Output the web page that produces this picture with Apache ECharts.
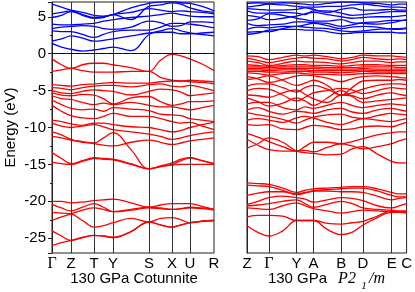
<!DOCTYPE html>
<html><head><meta charset="utf-8">
<script src="https://cdn.jsdelivr.net/npm/echarts@6/dist/echarts.min.js"></script>
<style>html,body{margin:0;padding:0;background:#fff}#c{width:415px;height:292px}</style>
</head><body><div id="c"></div>
<script>
// ---------- Left panel: 130 GPa Cotunnite ----------
const leftK = [0, 9.5, 19, 30.5, 42, 51.5, 61, 79, 97, 108.5, 120, 129, 138, 150, 162];
const leftTicks = [0, 19, 42, 61, 97, 120, 138, 162];
const leftTickLabels = ['Γ','Z','T','Y','S','X','U','R'];
const leftCond = [
  [1.4, 0.9, 0.6, 0.35, 0.5, 0.7, 0.9, 0.4, 2.6, 3.1, 3.4, 3.1, 2.8, 2.6, 2.4],
  [1.7, 2.0, 2.4, 2.1, 1.7, 1.8, 2.0, 2.4, 2.8, 2.9, 2.9, 2.7, 2.7, 2.8, 2.9],
  [3.1, 3.0, 3.0, 2.6, 2.2, 2.6, 3.0, 3.2, 3.2, 3.6, 4.1, 4.1, 4.0, 3.8, 3.5],
  [3.4, 3.6, 3.7, 3.8, 3.7, 3.4, 3.3, 3.6, 4.4, 4.2, 3.7, 3.8, 4.3, 4.3, 4.2],
  [4.0, 3.9, 3.9, 4.0, 4.1, 4.4, 4.6, 4.9, 5.1, 5.3, 5.5, 5.3, 5.1, 5.0, 5.0],
  [4.9, 5.2, 5.7, 5.3, 4.9, 5.0, 5.3, 5.6, 6.1, 5.9, 5.7, 5.8, 5.7, 5.6, 5.4],
  [5.4, 5.6, 5.8, 5.2, 4.8, 4.9, 5.3, 4.6, 6.4, 6.6, 6.9, 6.7, 6.2, 5.8, 5.6],
  [6.7, 6.3, 5.9, 5.6, 5.2, 5.1, 5.3, 6.2, 6.8, 7.0, 7.1, 6.9, 6.8, 6.4, 5.8]
];
const leftVal = [
  [-0.7, -1.5, -2.0, -1.5, -1.3, -1.3, -1.5, -1.9, -2.4, -0.9, -0.1, -0.3, -0.7, -1.4, -2.3],
  [-2.4, -2.2, -2.0, -2.3, -2.5, -2.5, -2.5, -2.4, -2.4, -3.2, -3.6, -3.7, -3.6, -3.7, -3.8],
  [-4.2, -4.3, -4.4, -4.2, -4.1, -4.0, -3.9, -4.0, -4.0, -3.8, -3.7, -3.7, -3.8, -3.9, -4.1],
  [-4.6, -4.7, -4.9, -4.6, -4.4, -4.3, -4.3, -4.5, -4.2, -4.1, -4.4, -4.5, -4.3, -4.6, -5.0],
  [-5.0, -5.3, -5.4, -5.1, -4.9, -5.0, -5.1, -5.6, -5.1, -4.8, -4.9, -5.2, -5.7, -5.5, -5.3],
  [-5.3, -5.6, -5.7, -5.5, -5.6, -6.1, -6.8, -6.0, -5.8, -6.5, -7.0, -6.8, -6.5, -6.5, -6.4],
  [-5.7, -6.1, -6.2, -6.6, -6.9, -6.7, -6.9, -6.6, -7.0, -7.2, -7.2, -7.4, -7.6, -7.3, -7.0],
  [-6.3, -6.9, -7.4, -7.6, -7.5, -7.8, -7.3, -7.5, -7.7, -8.2, -8.3, -8.4, -8.8, -9.0, -9.2],
  [-7.0, -7.8, -8.4, -8.7, -8.8, -8.5, -8.1, -8.5, -8.5, -8.8, -9.2, -9.4, -9.3, -9.8, -10.3],
  [-9.0, -9.2, -9.5, -9.7, -9.4, -9.4, -9.6, -9.9, -10.0, -10.3, -10.6, -10.4, -10.0, -9.6, -9.3],
  [-9.4, -9.8, -10.0, -9.8, -9.6, -9.9, -10.3, -10.6, -10.9, -11.2, -11.6, -11.4, -11.1, -10.8, -10.6],
  [-10.6, -11.0, -11.6, -12.0, -12.1, -11.4, -10.7, -13.0, -15.6, -15.3, -15.0, -14.5, -14.1, -14.5, -14.9],
  [-11.2, -11.4, -11.7, -11.9, -12.2, -12.4, -12.5, -12.0, -11.7, -12.0, -12.3, -12.1, -11.8, -11.6, -11.4],
  [-13.4, -14.2, -14.9, -14.5, -14.1, -14.2, -14.3, -14.9, -15.6, -15.2, -14.8, -14.3, -14.1, -14.5, -14.9],
  [-14.7, -14.9, -15.0, -14.6, -14.2, -14.3, -14.4, -15.0, -15.6, -15.3, -15.1, -15.0, -15.0, -15.0, -15.0],
  [-20.0, -20.0, -20.2, -20.1, -19.9, -19.8, -19.7, -20.2, -20.8, -20.5, -20.3, -20.3, -20.3, -20.7, -21.1],
  [-20.4, -20.9, -21.3, -20.8, -20.3, -20.8, -21.4, -21.1, -20.8, -20.9, -21.1, -21.0, -20.8, -20.9, -21.1],
  [-21.5, -21.6, -21.7, -22.6, -23.5, -23.3, -22.9, -22.3, -22.8, -22.3, -22.2, -22.5, -22.9, -22.7, -22.6],
  [-22.6, -22.1, -21.7, -21.2, -20.9, -21.1, -21.4, -21.2, -20.9, -21.0, -21.1, -21.0, -20.9, -21.0, -21.2],
  [-24.0, -24.7, -25.3, -24.9, -24.6, -24.7, -24.9, -24.1, -22.8, -23.2, -23.5, -23.2, -22.9, -22.7, -22.6],
  [-26.0, -25.6, -25.3, -24.9, -24.6, -24.7, -24.9, -24.1, -22.8, -23.2, -23.5, -23.2, -22.9, -22.7, -22.6]
];

// ---------- Right panel: 130 GPa P2_1/m ----------
const rightK = [0, 11, 22, 36, 50, 58.5, 67, 81, 95, 106, 117, 131.5, 146, 153.5, 161];
const rightTicks = [0, 22, 50, 67, 95, 117, 146, 161];
const rightTickLabels = ['Z','Γ','Y','A','B','D','E','C'];
const rightCond = [
  [2.6, 2.8, 3.2, 3.3, 3.3, 3.2, 3.2, 3.0, 2.7, 2.8, 2.9, 2.9, 2.9, 2.8, 2.8],
  [2.9, 3.0, 3.0, 3.4, 3.7, 3.6, 3.5, 3.4, 3.1, 3.0, 3.1, 3.3, 3.4, 3.4, 3.5],
  [3.3, 3.6, 3.5, 3.7, 3.7, 3.9, 4.1, 3.8, 3.4, 3.6, 3.7, 3.6, 3.3, 3.3, 3.4],
  [4.1, 3.8, 3.9, 4.0, 4.3, 4.3, 4.2, 4.1, 3.7, 3.9, 4.2, 4.3, 4.5, 4.5, 4.5],
  [4.5, 4.7, 5.4, 5.2, 4.8, 4.6, 4.4, 4.4, 4.6, 4.2, 4.1, 4.0, 4.2, 4.4, 4.6],
  [5.2, 5.0, 4.6, 4.8, 5.1, 5.4, 5.6, 5.3, 5.0, 4.8, 4.9, 5.0, 5.0, 5.1, 5.2],
  [5.8, 5.5, 5.5, 5.6, 5.5, 5.3, 5.8, 5.8, 5.5, 5.2, 5.3, 5.5, 5.7, 5.7, 5.7],
  [6.1, 6.0, 5.9, 5.9, 6.0, 6.2, 6.0, 5.6, 6.0, 6.2, 5.9, 5.9, 6.0, 5.9, 5.9],
  [6.3, 6.5, 6.7, 6.6, 6.4, 6.3, 6.3, 6.4, 6.4, 6.6, 6.7, 6.5, 6.3, 6.3, 6.2],
  [6.8, 6.9, 6.8, 6.9, 6.8, 6.7, 6.6, 6.8, 7.0, 7.0, 6.9, 6.8, 6.6, 6.7, 6.7]
];
const rightVal = [
  [-0.3, -0.4, -0.8, -0.5, -0.2, -0.3, -0.2, -0.4, -0.7, -0.5, -0.2, -0.3, -0.3, -0.4, -0.5],
  [-0.6, -0.9, -1.2, -0.9, -0.6, -0.5, -0.6, -0.7, -1.0, -0.8, -0.5, -0.7, -0.8, -0.7, -0.8],
  [-1.0, -1.2, -1.6, -1.3, -1.0, -1.1, -1.1, -1.2, -1.4, -1.2, -1.0, -1.0, -1.2, -1.1, -1.1],
  [-1.5, -1.6, -1.7, -1.6, -1.5, -1.5, -1.6, -1.6, -1.7, -1.6, -1.5, -1.5, -1.6, -1.6, -1.6],
  [-1.8, -1.8, -1.9, -1.8, -1.8, -1.8, -1.8, -1.9, -1.9, -1.9, -1.8, -1.8, -1.8, -1.9, -1.9],
  [-2.0, -2.0, -2.1, -2.0, -2.0, -2.0, -2.0, -2.1, -2.1, -2.1, -2.0, -2.1, -2.1, -2.1, -2.1],
  [-2.2, -2.2, -2.3, -2.2, -2.2, -2.2, -2.3, -2.3, -2.3, -2.3, -2.2, -2.3, -2.3, -2.3, -2.3],
  [-2.4, -2.4, -2.5, -2.5, -2.4, -2.4, -2.5, -2.5, -2.6, -2.5, -2.4, -2.5, -2.5, -2.5, -2.5],
  [-2.6, -2.7, -2.9, -2.7, -2.6, -2.7, -2.8, -2.8, -2.9, -2.8, -2.7, -2.7, -2.7, -2.7, -2.7],
  [-3.1, -3.4, -3.9, -3.5, -3.0, -2.9, -3.0, -3.3, -3.8, -3.4, -3.1, -3.0, -3.1, -3.2, -3.3],
  [-3.5, -3.3, -3.0, -3.6, -4.3, -4.0, -3.6, -4.3, -5.6, -4.6, -3.7, -3.6, -3.6, -3.5, -3.6],
  [-4.4, -4.1, -4.1, -4.6, -5.2, -4.6, -4.3, -4.8, -5.6, -5.3, -4.8, -4.3, -4.1, -4.1, -4.2],
  [-5.0, -4.7, -4.8, -5.6, -6.4, -5.9, -5.3, -5.0, -4.7, -4.9, -5.4, -5.0, -4.6, -4.7, -4.8],
  [-5.6, -5.7, -5.9, -5.3, -4.9, -5.5, -6.1, -6.6, -5.6, -5.7, -6.1, -5.6, -5.3, -5.5, -5.7],
  [-6.0, -6.5, -7.1, -6.7, -6.0, -6.4, -7.0, -6.0, -5.0, -5.8, -6.6, -6.4, -6.2, -6.1, -6.0],
  [-6.8, -6.6, -6.6, -7.3, -7.6, -7.2, -7.4, -7.0, -6.6, -7.0, -7.3, -7.0, -6.8, -6.9, -7.0],
  [-7.6, -7.3, -7.8, -8.2, -7.8, -7.9, -8.1, -7.6, -7.4, -7.9, -8.1, -7.6, -7.4, -7.6, -7.8],
  [-8.0, -8.3, -8.5, -8.9, -9.4, -9.0, -8.6, -8.3, -8.2, -8.6, -8.8, -8.4, -8.1, -8.2, -8.3],
  [-9.0, -8.8, -9.0, -9.3, -8.7, -8.5, -8.7, -9.3, -9.6, -9.2, -8.8, -9.0, -9.2, -9.0, -8.8],
  [-9.6, -9.7, -9.6, -10.2, -10.3, -10.0, -9.7, -9.9, -10.3, -10.2, -9.9, -9.8, -9.9, -9.6, -9.3],
  [-10.8, -11.3, -11.9, -12.6, -13.2, -13.1, -13.3, -12.7, -12.2, -12.5, -12.9, -12.6, -12.2, -11.8, -11.5],
  [-12.8, -12.2, -11.4, -12.0, -13.2, -13.4, -13.5, -13.7, -13.6, -12.9, -12.6, -13.6, -14.6, -14.8, -14.8],
  [-11.6, -12.4, -13.0, -13.2, -13.2, -12.6, -12.0, -12.0, -12.2, -11.9, -11.5, -11.0, -10.7, -10.6, -10.6],
  [-17.5, -17.6, -17.7, -18.2, -18.8, -18.5, -18.3, -18.2, -18.1, -18.0, -18.0, -18.3, -18.8, -19.0, -19.0],
  [-17.8, -17.9, -18.0, -18.5, -19.1, -18.9, -18.6, -18.4, -18.3, -18.2, -18.2, -18.6, -19.2, -19.4, -19.4],
  [-19.2, -18.9, -18.7, -18.7, -19.0, -18.8, -18.6, -18.6, -18.7, -18.7, -18.8, -19.3, -19.8, -19.6, -19.5],
  [-20.4, -20.0, -19.5, -19.3, -19.5, -19.7, -20.1, -19.8, -19.5, -19.6, -19.9, -20.6, -20.9, -20.6, -20.3],
  [-20.6, -20.5, -20.3, -20.0, -19.8, -20.3, -20.8, -20.4, -20.0, -20.3, -20.9, -21.1, -21.2, -21.3, -21.3],
  [-20.9, -21.0, -21.1, -20.6, -20.2, -20.6, -21.0, -21.3, -21.6, -21.4, -21.2, -21.3, -21.4, -21.4, -21.4],
  [-22.1, -21.9, -21.9, -22.0, -22.6, -22.6, -22.6, -23.0, -23.1, -22.9, -22.7, -22.0, -21.3, -21.4, -21.5],
  [-23.3, -24.2, -24.7, -24.0, -22.6, -22.6, -22.6, -23.8, -24.5, -24.2, -23.2, -22.2, -21.5, -21.5, -21.6]
];

const yMin = -27, yMax = 7;
const RED = '#ff0000', BLUE = '#0000ff';
const FONT = 'Liberation Sans';

function bandSeries(k, bands, color, gi) {
  return bands.map(b => ({
    type: 'line', xAxisIndex: gi, yAxisIndex: gi, silent: true,
    data: k.map((x, i) => [x, b[i]]),
    symbol: 'none', smooth: 0.4, z: 3,
    lineStyle: { color: color, width: 1.3 }
  }));
}
function guideSeries(ticks, gi) {
  return {
    type: 'line', xAxisIndex: gi, yAxisIndex: gi, data: [], silent: true, z: 2,
    markLine: {
      silent: true, symbol: 'none', animation: false, label: { show: false },
      data: ticks.slice(1, -1).map(t => ({ xAxis: t, lineStyle: { color: '#333', width: 1, type: 'solid' } }))
        .concat([{ yAxis: 0, lineStyle: { color: '#000', width: 1, type: [5, 3] } }])
    }
  };
}
function xAxisFor(ticks, labels, max, gi) {
  return {
    type: 'value', gridIndex: gi, min: 0, max: max,
    splitLine: { show: false }, axisTick: { show: false },
    axisLine: { show: true, lineStyle: { color: '#222', width: 1 } },
    axisLabel: {
      customValues: ticks, showMinLabel: true, showMaxLabel: true, margin: 3,
      fontFamily: FONT, fontSize: 15, color: '#000',
      formatter: v => { const i = ticks.indexOf(v); const s = i >= 0 ? labels[i] : ''; return s === 'Γ' ? '{g|Γ}' : s; },
      rich: { g: { fontFamily: 'Liberation Serif', fontSize: 16, color: '#000' } }
    }
  };
}

const chart = echarts.init(document.getElementById('c'), null, { renderer: 'canvas' });
chart.setOption({
  animation: false,
  backgroundColor: '#fff',
  grid: [
    { left: 52, top: 2, width: 162, height: 251, show: true, borderColor: '#222', borderWidth: 1, containLabel: false },
    { left: 247, top: 2, width: 161, height: 251, show: true, borderColor: '#222', borderWidth: 1, containLabel: false }
  ],
  xAxis: [xAxisFor(leftTicks, leftTickLabels, 162, 0), xAxisFor(rightTicks, rightTickLabels, 161, 1)],
  yAxis: [
    {
      type: 'value', gridIndex: 0, min: yMin, max: yMax, splitNumber: 7,
      name: 'Energy (eV)', nameLocation: 'middle', nameGap: 34,
      nameTextStyle: { fontFamily: FONT, fontSize: 15, color: '#000' },
      axisLine: { show: true, lineStyle: { color: '#222' } },
      axisTick: { show: true, length: 4, inside: false, lineStyle: { color: '#222' } },
      minorTick: { show: true, splitNumber: 2, length: 2, lineStyle: { color: '#222' } },
      splitLine: { show: false },
      axisLabel: { fontFamily: FONT, fontSize: 15, color: '#000', margin: 6, showMinLabel: false, showMaxLabel: false }
    },
    {
      type: 'value', gridIndex: 1, min: yMin, max: yMax, splitNumber: 7,
      axisLine: { show: true, lineStyle: { color: '#222' } },
      axisTick: { show: false }, axisLabel: { show: false }, splitLine: { show: false }
    }
  ],
  series: [].concat(
    [guideSeries(leftTicks, 0), guideSeries(rightTicks, 1)],
    bandSeries(leftK, leftVal, RED, 0),
    bandSeries(leftK, leftCond, BLUE, 0),
    bandSeries(rightK, rightVal, RED, 1),
    bandSeries(rightK, rightCond, BLUE, 1)
  ),
  graphic: [
    { type: 'text', x: 134, y: 279, style: { text: '130 GPa Cotunnite', font: '15px "Liberation Sans"', fill: '#000', align: 'center', verticalAlign: 'middle' } },
    { type: 'text', x: 297.5, y: 279, style: { text: '130 GPa', font: '15px "Liberation Sans"', fill: '#000', align: 'center', verticalAlign: 'middle' } },
    { type: 'text', x: 347, y: 279, style: { text: 'P2', font: 'italic 16px "Liberation Serif"', fill: '#000', align: 'center', verticalAlign: 'middle' } },
    { type: 'text', x: 364, y: 286, style: { text: '1', font: 'italic 11px "Liberation Serif"', fill: '#000', align: 'center', verticalAlign: 'middle' } },
    { type: 'text', x: 377, y: 279, style: { text: '/m', font: 'italic 16px "Liberation Serif"', fill: '#000', align: 'center', verticalAlign: 'middle' } }
  ]
});
</script></body></html>
